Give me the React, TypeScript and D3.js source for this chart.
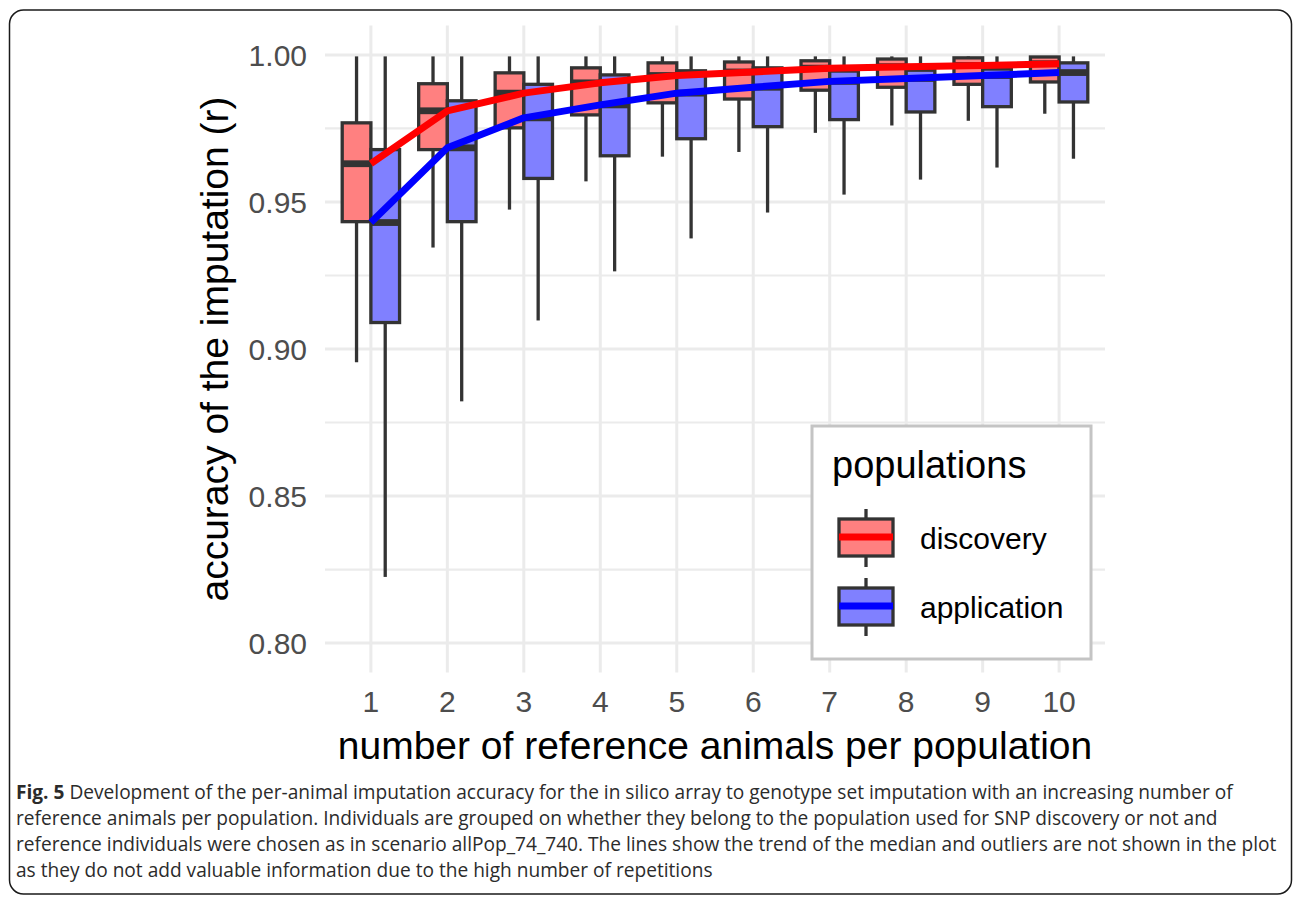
import React, { useRef, useEffect } from "react";
import * as d3 from "d3";

// number of reference animals per population
const categories = ["1", "2", "3", "4", "5", "6", "7", "8", "9", "10"];

// discovery population (box stats)
const discoveryLow = [0.8955, 0.9345, 0.9474, 0.957, 0.9654, 0.967, 0.9735, 0.976, 0.9776, 0.98];
const discoveryQ1 = [0.9433, 0.9678, 0.9752, 0.9796, 0.9837, 0.985, 0.988, 0.989, 0.99, 0.9908];
const discoveryMedian = [0.963, 0.981, 0.987, 0.9905, 0.993, 0.9942, 0.9955, 0.996, 0.9964, 0.997];
const discoveryQ3 = [0.9769, 0.9902, 0.9939, 0.9956, 0.9973, 0.9976, 0.998, 0.9986, 0.999, 0.9993];
const discoveryHigh = [0.9995, 0.9995, 0.9995, 0.9995, 0.9995, 0.9995, 0.9995, 0.9995, 0.9995, 0.9995];

// application population
const applicationLow = [0.8225, 0.8822, 0.9097, 0.9264, 0.9376, 0.9464, 0.9525, 0.9576, 0.9617, 0.9647];
const applicationQ1 = [0.909, 0.9433, 0.958, 0.9657, 0.9715, 0.9756, 0.978, 0.9806, 0.9824, 0.984];
const applicationMedian = [0.943, 0.9684, 0.9786, 0.983, 0.987, 0.989, 0.991, 0.992, 0.993, 0.994];
const applicationQ3 = [0.9678, 0.9844, 0.99, 0.9932, 0.9946, 0.9956, 0.9945, 0.9948, 0.9952, 0.9973];
const applicationHigh = [0.9995, 0.9995, 0.9995, 0.9995, 0.9995, 0.9995, 0.9995, 0.9995, 0.9995, 0.9995];

const yTicks = [0.8, 0.85, 0.9, 0.95, 1.0];
const yMinor = [0.825, 0.875, 0.925, 0.975];

const captionLines = [
	"Development of the per-animal imputation accuracy for the in silico array to genotype set imputation with an increasing number of",
	"reference animals per population. Individuals are grouped on whether they belong to the population used for SNP discovery or not and",
	"reference individuals were chosen as in scenario allPop_74_740. The lines show the trend of the median and outliers are not shown in the plot",
	"as they do not add valuable information due to the high number of repetitions",
];

const series = [
	{ name: "discovery", fill: "#FF8080", line: "#FF0000", low: discoveryLow, q1: discoveryQ1, med: discoveryMedian, q3: discoveryQ3, high: discoveryHigh },
	{ name: "application", fill: "#8080FF", line: "#0000FF", low: applicationLow, q1: applicationQ1, med: applicationMedian, q3: applicationQ3, high: applicationHigh },
];

const App = () => {
	const ref = useRef<SVGSVGElement>(null);
	const width = 1295;
	const height = 897;
	const panel = { left: 325, right: 1105, top: 25.5, bottom: 672.5 };
	const axisFont = "'Liberation Sans', Arial, Helvetica, sans-serif";
	const ink = "#333333";

	useEffect(() => {
		const svg = d3.select(ref.current);
		svg.selectAll("*").remove();

		// outer frame
		svg
			.append("rect")
			.attr("x", 9.5)
			.attr("y", 10)
			.attr("width", 1282)
			.attr("height", 884)
			.attr("rx", 14)
			.attr("fill", "#fff")
			.attr("stroke", "#1a1a1a")
			.attr("stroke-width", 1.5);

		const x = d3
			.scalePoint()
			.domain(categories)
			.range([panel.left, panel.right])
			.padding(0.6);
		const dodge = d3
			.scaleBand()
			.domain(series.map((s) => s.name))
			.range([-0.375 * x.step(), 0.375 * x.step()]);
		const y = d3
			.scaleLinear()
			.domain([0.79, 1.01])
			.range([panel.bottom, panel.top]);

		// grid
		const grid = svg.append("g").attr("stroke", "#EBEBEB");
		grid
			.selectAll(".minor")
			.data(yMinor)
			.enter()
			.append("line")
			.attr("x1", panel.left)
			.attr("x2", panel.right)
			.attr("y1", (d) => y(d))
			.attr("y2", (d) => y(d))
			.attr("stroke-width", 2.2);
		grid
			.selectAll(".major")
			.data(yTicks)
			.enter()
			.append("line")
			.attr("x1", panel.left)
			.attr("x2", panel.right)
			.attr("y1", (d) => y(d))
			.attr("y2", (d) => y(d))
			.attr("stroke-width", 3);
		grid
			.selectAll(".vert")
			.data(categories)
			.enter()
			.append("line")
			.attr("x1", (d) => x(d))
			.attr("x2", (d) => x(d))
			.attr("y1", panel.top)
			.attr("y2", panel.bottom)
			.attr("stroke-width", 3);

		// y axis labels
		svg
			.append("g")
			.selectAll("text")
			.data(yTicks)
			.enter()
			.append("text")
			.attr("x", 307)
			.attr("y", (d) => y(d))
			.attr("dy", "0.36em")
			.attr("text-anchor", "end")
			.attr("font-family", axisFont)
			.attr("font-size", 30)
			.attr("fill", "#4D4D4D")
			.text((d) => d3.format(".2f")(d));

		// x axis labels
		svg
			.append("g")
			.selectAll("text")
			.data(categories)
			.enter()
			.append("text")
			.attr("x", (d) => x(d))
			.attr("y", 712)
			.attr("text-anchor", "middle")
			.attr("font-family", axisFont)
			.attr("font-size", 30)
			.attr("fill", "#4D4D4D")
			.text((d) => d);

		// axis titles
		svg
			.append("text")
			.attr("x", (panel.left + panel.right) / 2)
			.attr("y", 759)
			.attr("text-anchor", "middle")
			.attr("font-family", axisFont)
			.attr("font-size", 39)
			.attr("fill", "#000")
			.text("number of reference animals per population");
		svg
			.append("text")
			.attr("transform", `translate(228, ${(panel.top + panel.bottom) / 2}) rotate(-90)`)
			.attr("text-anchor", "middle")
			.attr("font-family", axisFont)
			.attr("font-size", 39)
			.attr("fill", "#000")
			.text("accuracy of the imputation (r)");

		// boxplots
		const boxes = svg.append("g");
		series.forEach((s) => {
			const g = boxes.append("g");
			const bw = dodge.bandwidth();
			const left = (i) => x(categories[i]) + dodge(s.name);
			const idx = d3.range(categories.length);
			// whiskers
			g.selectAll(".wl")
				.data(idx)
				.enter()
				.append("line")
				.attr("x1", (i) => left(i) + bw / 2)
				.attr("x2", (i) => left(i) + bw / 2)
				.attr("y1", (i) => y(s.low[i]))
				.attr("y2", (i) => y(s.q1[i]))
				.attr("stroke", ink)
				.attr("stroke-width", 3.3);
			g.selectAll(".wh")
				.data(idx)
				.enter()
				.append("line")
				.attr("x1", (i) => left(i) + bw / 2)
				.attr("x2", (i) => left(i) + bw / 2)
				.attr("y1", (i) => y(s.high[i]))
				.attr("y2", (i) => y(s.q3[i]))
				.attr("stroke", ink)
				.attr("stroke-width", 3.3);
			g.selectAll(".box")
				.data(idx)
				.enter()
				.append("rect")
				.attr("x", (i) => left(i))
				.attr("y", (i) => y(s.q3[i]))
				.attr("width", bw)
				.attr("height", (i) => y(s.q1[i]) - y(s.q3[i]))
				.attr("fill", s.fill)
				.attr("stroke", ink)
				.attr("stroke-width", 3.3);
			g.selectAll(".med")
				.data(idx)
				.enter()
				.append("line")
				.attr("x1", (i) => left(i))
				.attr("x2", (i) => left(i) + bw)
				.attr("y1", (i) => y(s.med[i]))
				.attr("y2", (i) => y(s.med[i]))
				.attr("stroke", ink)
				.attr("stroke-width", 6.8);
		});

		// median trend lines
		series.forEach((s) => {
			const line = d3
				.line<number>()
				.x((i) => x(categories[i]))
				.y((i) => y(s.med[i]));
			svg
				.append("path")
				.attr("d", line(d3.range(categories.length)))
				.attr("fill", "none")
				.attr("stroke", s.line)
				.attr("stroke-width", 7)
				.attr("stroke-linejoin", "round");
		});

		// legend
		const legend = svg.append("g");
		legend
			.append("rect")
			.attr("x", 812)
			.attr("y", 426)
			.attr("width", 279)
			.attr("height", 233)
			.attr("fill", "#fff")
			.attr("stroke", "#C4C4C4")
			.attr("stroke-width", 3);
		legend
			.append("text")
			.attr("x", 832)
			.attr("y", 478)
			.attr("font-family", axisFont)
			.attr("font-size", 38)
			.attr("fill", "#000")
			.text("populations");
		series.forEach((s, k) => {
			const cy = 538 + k * 69;
			const key = legend.append("g");
			key
				.append("line")
				.attr("x1", 866)
				.attr("x2", 866)
				.attr("y1", cy - 29)
				.attr("y2", cy + 29)
				.attr("stroke", ink)
				.attr("stroke-width", 3.3);
			key
				.append("rect")
				.attr("x", 839)
				.attr("y", cy - 19)
				.attr("width", 54)
				.attr("height", 37)
				.attr("fill", s.fill)
				.attr("stroke", ink)
				.attr("stroke-width", 3.3);
			key
				.append("line")
				.attr("x1", 839)
				.attr("x2", 893)
				.attr("y1", cy - 1)
				.attr("y2", cy - 1)
				.attr("stroke", s.line)
				.attr("stroke-width", 7);
			key
				.append("text")
				.attr("x", 920)
				.attr("y", cy + 11)
				.attr("font-family", axisFont)
				.attr("font-size", 30)
				.attr("fill", "#000")
				.text(s.name);
		});

		// caption
		const cap = svg
			.append("g")
			.attr("font-family", "'Open Sans', 'Noto Sans', sans-serif")
			.attr("fill", "#2b2b2b");
		const texts = captionLines.map((t, i) => {
			const el = cap
				.append("text")
				.attr("x", 16)
				.attr("y", 799 + i * 26)
				.attr("font-size", 19);
			if (i === 0) {
				el.append("tspan").attr("font-weight", "bold").text("Fig. 5");
				el.append("tspan").text(" " + t);
			} else {
				el.text(t);
			}
			return el;
		});
		// fit caption width to the reference line width
		const measured = (texts[2].node() as SVGTextElement).getComputedTextLength();
		const size = measured > 0 ? (19 * 1261) / measured : 19;
		texts.forEach((el) => el.attr("font-size", size));
	}, []);

	return (
		<svg
			ref={ref}
			width={width}
			height={height}
			style={{ position: "absolute", left: 0, top: 0, background: "#fff" }}
		/>
	);
};

export default App;
